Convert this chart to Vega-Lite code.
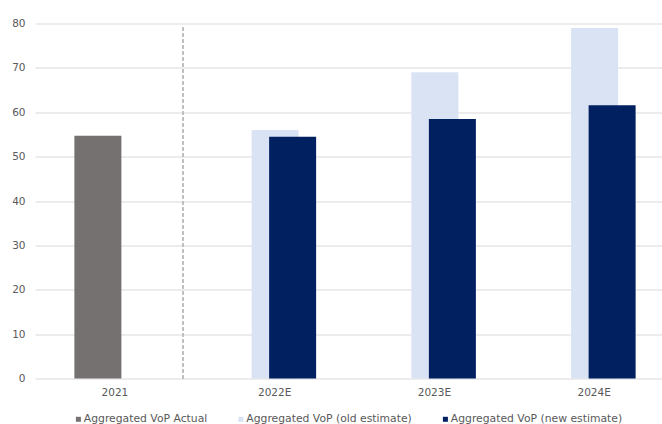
{
  "$schema": "https://vega.github.io/schema/vega-lite/v6.json",
  "width": 627,
  "height": 355,
  "autosize": {"type": "none"},
  "padding": {"left": 35, "top": 23.5, "right": 0, "bottom": 45.5},
  "background": "white",
  "config": {
    "view": {"stroke": null},
    "font": "DejaVu Sans",
    "axis": {"labelFont": "DejaVu Sans", "labelColor": "#595959", "labelFontSize": 10.5},
    "legend": {"labelFont": "DejaVu Sans", "labelColor": "#595959", "labelFontSize": 10.8}
  },
  "data": {
    "values": [
      {"year": "2021", "series": "Aggregated VoP Actual", "value": 54.7},
      {"year": "2022E", "series": "Aggregated VoP (old estimate)", "value": 56.0},
      {"year": "2023E", "series": "Aggregated VoP (old estimate)", "value": 69.0},
      {"year": "2024E", "series": "Aggregated VoP (old estimate)", "value": 79.0},
      {"year": "2022E", "series": "Aggregated VoP (new estimate)", "value": 54.5},
      {"year": "2023E", "series": "Aggregated VoP (new estimate)", "value": 58.5},
      {"year": "2024E", "series": "Aggregated VoP (new estimate)", "value": 61.6}
    ]
  },
  "encoding": {
    "x": {
      "field": "year", "type": "nominal",
      "scale": {"domain": ["2021", "2022E", "2023E", "2024E"], "range": [0, 639], "paddingInner": 0, "paddingOuter": 0},
      "axis": {"title": null, "domain": false, "ticks": false, "labelAngle": 0, "labelPadding": 9, "grid": false}
    },
    "y": {
      "field": "value", "type": "quantitative",
      "scale": {"domain": [0, 80], "nice": false},
      "axis": {"title": null, "values": [0, 10, 20, 30, 40, 50, 60, 70, 80], "domain": false, "ticks": false, "labelPadding": 10, "grid": true, "gridColor": "#D9D9D9", "gridWidth": 1}
    },
    "color": {
      "field": "series", "type": "nominal",
      "scale": {
        "domain": ["Aggregated VoP Actual", "Aggregated VoP (old estimate)", "Aggregated VoP (new estimate)"],
        "range": ["#767171", "#DAE3F3", "#002060"]
      },
      "legend": {
        "title": null, "orient": "none", "direction": "horizontal",
        "legendX": 38, "legendY": 390,
        "symbolType": "square", "symbolSize": 25, "symbolStrokeWidth": 0,
        "labelOffset": 0, "columnPadding": 27.5, "labelLimit": 400
      }
    }
  },
  "layer": [
    {
      "transform": [{"filter": "datum.series === 'Aggregated VoP Actual'"}],
      "mark": {"type": "bar", "width": 47, "xOffset": -17}
    },
    {
      "transform": [{"filter": "datum.series === 'Aggregated VoP (old estimate)'"}],
      "mark": {"type": "bar", "width": 47, "xOffset": 0.5}
    },
    {
      "transform": [{"filter": "datum.series === 'Aggregated VoP (new estimate)'"}],
      "mark": {"type": "bar", "width": 47, "xOffset": 18}
    },
    {
      "mark": {"type": "rule", "color": "#BDBDBD", "strokeWidth": 1, "strokeDash": [3, 3]},
      "encoding": {
        "x": {"datum": "2021", "bandPosition": 0.927},
        "y": {"datum": 0},
        "y2": {"datum": 79.2},
        "color": {"value": "#BDBDBD"}
      }
    }
  ]
}
